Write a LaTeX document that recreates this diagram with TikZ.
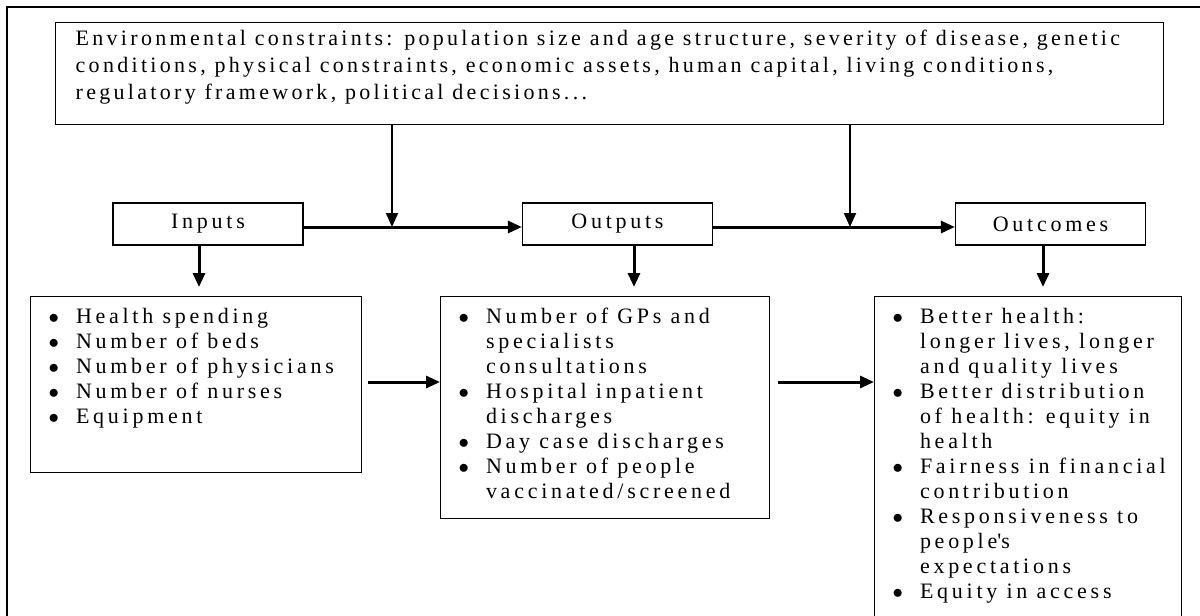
\documentclass[tikz,border=0pt]{standalone}
\usepackage{fontspec}
\setmainfont{Liberation Serif}
\newfontfamily\boxfont[LetterSpace=17,Ligatures=NoCommon]{Liberation Serif}
\newfontfamily\envfont[LetterSpace=15,Ligatures=NoCommon]{Liberation Serif}
\usetikzlibrary{arrows.meta,positioning}
\newcommand{\blt}{$\bullet$}
\newcommand{\itemtable}[3]{\begin{minipage}[t][#2][t]{#1}\boxfont\fontsize{22}{25}\selectfont
\vspace*{9.5pt}\par\noindent
\begin{tabular}[t]{@{\hspace{18pt}}l@{\hspace{17pt}}l@{}}#3\end{tabular}\end{minipage}}

\begin{document}
\begin{tikzpicture}[x=1pt,y=-1pt,
  box/.style={draw, line width=1.3pt, inner sep=0pt},
  tag/.style={box, minimum width=190pt, minimum height=42pt, font=\boxfont\fontsize{22}{25}\selectfont},
  flow/.style={line width=3pt, -{Triangle[length=14pt,width=12pt]}},
  feed/.style={line width=2pt, -{Triangle[length=14pt,width=12pt]}}]
\useasboundingbox (0,0) rectangle (1200,616);

% frame
\draw[line width=2pt] (7,640) -- (7,7) -- (1210,7);

\node[box, anchor=north west] (env) at (55,22) {\begin{minipage}[t][102pt][t]{1108pt}
\envfont\fontsize{22}{27}\selectfont\raggedright\leftskip=20pt
\rule{0pt}{23pt}Environmental constraints: population size and age structure, severity of disease, genetic\\
conditions, physical constraints, economic assets, human capital, living conditions,\\
regulatory framework, political decisions...\end{minipage}};

\node[tag] (inputs) at (208,224) {Inputs};
\node[tag] (outputs) at (617.5,224) {Outputs};
\node[tag] (outcomes) at (1050.5,224) {Outcomes};

\node[box, anchor=north west] (inlist) at (30,296) {\itemtable{331pt}{176pt}{%
\blt & Health spending\\
\blt & Number of beds\\
\blt & Number of physicians\\
\blt & Number of nurses\\
\blt & Equipment}};
\node[box, anchor=north west] (outlist) at (440,296) {\itemtable{329pt}{222pt}{%
\blt & Number of GPs and\\
 & specialists\\
 & consultations\\
\blt & Hospital inpatient\\
 & discharges\\
\blt & Day case discharges\\
\blt & Number of people\\
 & vaccinated/screened}};
\node[box, anchor=north west] (outclist) at (874,296) {\itemtable{307pt}{360pt}{%
\blt & Better health:\\
 & longer lives, longer\\
 & and quality lives\\
\blt & Better distribution\\
 & of health: equity in\\
 & health\\
\blt & Fairness in financial\\
 & contribution\\
\blt & Responsiveness to\\
 & people\textquotesingle s\\
 & expectations\\
\blt & Equity in access}};

% arrows
\coordinate (inmeet) at (392,227);
\coordinate (outmeet) at (850,227);
\coordinate (row) at (0,382);
\draw[feed] (env.south -| inmeet) -- (inmeet);
\draw[feed] (env.south -| outmeet) -- (outmeet);
\draw[flow] (inputs.east |- inmeet) -- (outputs.west |- inmeet);
\draw[flow] (outputs.east |- outmeet) -- (outcomes.west |- outmeet);

\draw[flow, shorten >=9pt] ([xshift=-9pt]inputs.south) -- ([xshift=-9pt]inputs.south |- inlist.north);
\draw[flow, shorten >=9pt] ([xshift=16.5pt]outputs.south) -- ([xshift=16.5pt]outputs.south |- outlist.north);
\draw[flow, shorten >=9pt] ([xshift=-7.5pt]outcomes.south) -- ([xshift=-7.5pt]outcomes.south |- outclist.north);

\draw[flow, shorten <=6pt] (inlist.east |- row) -- (outlist.west |- row);
\draw[flow, shorten <=8pt] (outlist.east |- row) -- (outclist.west |- row);
\end{tikzpicture}
\end{document}
